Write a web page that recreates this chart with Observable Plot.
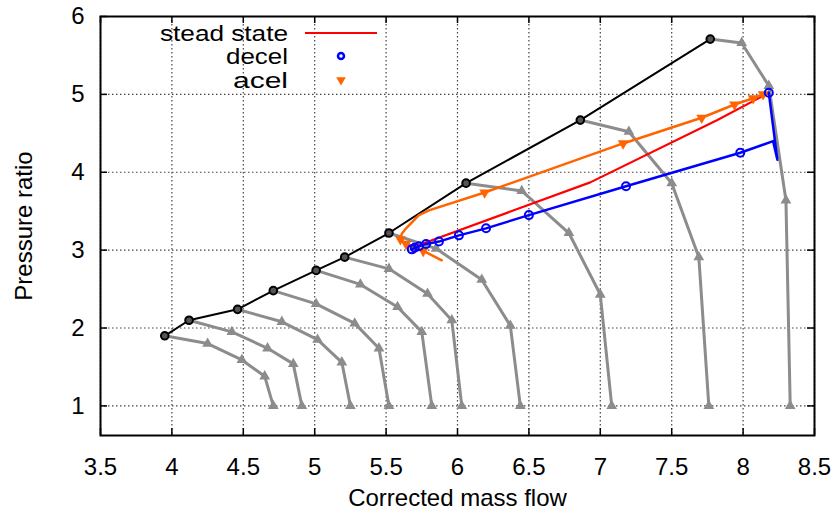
<!DOCTYPE html>
<html><head><meta charset="utf-8">
<script src="https://cdn.jsdelivr.net/npm/d3@7"></script>
<script src="https://cdn.jsdelivr.net/npm/@observablehq/plot@0.6"></script>
<style>
body{margin:0;background:#fff;}
#chart{position:relative;width:837px;height:516px;}
</style></head><body><div id="chart"></div>
<script>
// ---- data ----
const xTicks = [3.5, 4, 4.5, 5, 5.5, 6, 6.5, 7, 7.5, 8, 8.5];
const yTicks = [1, 2, 3, 4, 5, 6];

// surge line (black circles)
const surgeX = [3.95, 4.12, 4.46, 4.71, 5.01, 5.21, 5.52, 6.06, 6.86, 7.77];
const surgeY = [1.90, 2.10, 2.24, 2.48, 2.74, 2.91, 3.22, 3.86, 4.67, 5.71];

// constant-speed lines (grey triangles); each starts at the matching surge point
const speedX = [
  [4.25, 4.49, 4.65, 4.71],
  [4.42, 4.67, 4.85, 4.91],
  [4.77, 5.02, 5.19, 5.25],
  [5.01, 5.28, 5.45, 5.52],
  [5.32, 5.58, 5.75, 5.82],
  [5.52, 5.79, 5.96, 6.03],
  [5.85, 6.17, 6.37, 6.44],
  [6.45, 6.78, 7.00, 7.08],
  [7.20, 7.50, 7.69, 7.76],
  [7.99, 8.18, 8.30, 8.33]
];
const speedY = [
  [1.80, 1.59, 1.38, 1.00],
  [1.95, 1.74, 1.54, 1.00],
  [2.08, 1.85, 1.56, 1.00],
  [2.31, 2.06, 1.74, 1.00],
  [2.56, 2.27, 1.95, 1.00],
  [2.76, 2.44, 2.10, 1.00],
  [3.02, 2.62, 2.03, 1.00],
  [3.76, 3.22, 2.43, 1.00],
  [4.52, 3.86, 2.91, 1.00],
  [5.66, 5.11, 3.64, 1.00]
];

// steady state (red)
const steadyX = [5.72, 6.93, 7.82, 8.18];
const steadyY = [3.06, 3.87, 4.67, 5.02];

// deceleration (blue circles)
const decelX = [8.18, 8.24, 8.21, 7.98, 7.18, 6.50, 6.20, 6.01, 5.87, 5.78, 5.73, 5.70, 5.68];
const decelY = [5.02, 4.16, 4.40, 4.25, 3.82, 3.45, 3.28, 3.19, 3.11, 3.08, 3.05, 3.03, 3.01];

// acceleration (orange down-triangles)
const acelX = [5.89, 5.76, 5.70, 5.64, 5.60, 5.61, 5.64, 5.73, 5.80, 6.19, 7.16, 7.71, 7.94, 8.07, 8.14, 8.18];
const acelY = [2.87, 2.99, 3.03, 3.08, 3.14, 3.21, 3.28, 3.45, 3.51, 3.74, 4.37, 4.70, 4.87, 4.95, 5.00, 5.02];

const legendLabels = ["stead state", "decel", "acel"];

// ---- build tables ----
const surge = surgeX.map((x, i) => ({x, y: surgeY[i]}));
const grey = [];
speedX.forEach((xs, k) => {
  grey.push({line: k, idx: 0, x: surgeX[k], y: surgeY[k]});
  xs.forEach((x, j) => grey.push({line: k, idx: j + 1, x, y: speedY[k][j]}));
});
const steady = steadyX.map((x, i) => ({x, y: steadyY[i]}));
const decel = decelX.map((x, i) => ({x, y: decelY[i], i}));
const acel = acelX.map((x, i) => ({x, y: acelY[i], i}));

const sqrt3 = Math.sqrt(3);
const triDown = {
  draw(context, size) {
    const y = -Math.sqrt(size / (sqrt3 * 3));
    context.moveTo(0, -y * 2);
    context.lineTo(-sqrt3 * y, y);
    context.lineTo(sqrt3 * y, y);
    context.closePath();
  }
};

const GREY = "#8c8c8c", ORANGE = "#ff6400";
const W = 837, H = 516, mL = 100, mR = 23, mT = 16, mB = 81;
const fw = W - mL - mR, fh = H - mT - mB, tl = 7;
const FONT = "'Liberation Sans', Arial, Helvetica, sans-serif";

const chart = Plot.plot({
  width: W, height: H,
  marginLeft: mL, marginRight: mR, marginTop: mT, marginBottom: mB,
  style: {fontFamily: FONT, fontSize: "24px", color: "#000", background: "#fff"},
  x: {domain: [3.5, 8.5]},
  y: {domain: [0.62, 6]},
  marks: [
    Plot.gridX(xTicks, {stroke: "#444", strokeOpacity: 1, strokeWidth: 1.2, strokeDasharray: "1.5,2.5"}),
    Plot.gridY(yTicks, {stroke: "#444", strokeOpacity: 1, strokeWidth: 1.2, strokeDasharray: "1.5,2.5"}),
    Plot.tickX(xTicks, {x: d => d, insetTop: fh - tl, stroke: "#000", strokeWidth: 1.5}),
    Plot.tickX(xTicks, {x: d => d, insetBottom: fh - tl, stroke: "#000", strokeWidth: 1.5}),
    Plot.tickY(yTicks, {y: d => d, insetRight: fw - tl, stroke: "#000", strokeWidth: 1.5}),
    Plot.tickY(yTicks, {y: d => d, insetLeft: fw - tl, stroke: "#000", strokeWidth: 1.5}),
    Plot.line(grey, {x: "x", y: "y", z: "line", stroke: GREY, strokeWidth: 3}),
    Plot.dot(grey.filter(d => d.idx > 0), {x: "x", y: "y", symbol: "triangle", r: 4, fill: GREY}),
    Plot.line(surge, {x: "x", y: "y", stroke: "#000", strokeWidth: 2}),
    Plot.dot(surge, {x: "x", y: "y", r: 3.8, stroke: "#000", strokeWidth: 2, fill: "#555"}),
    Plot.line(steady, {x: "x", y: "y", stroke: "#ff0000", strokeWidth: 2.2}),
    Plot.line(acel, {x: "x", y: "y", stroke: ORANGE, strokeWidth: 2.5}),
    Plot.dot(acel.filter(d => (d.i >= 1 && d.i <= 4) || (d.i >= 9 && d.i <= 14)), {x: "x", y: "y", symbol: triDown, r: 4, fill: ORANGE}),
    Plot.line(decel, {x: "x", y: "y", stroke: "#0000ff", strokeWidth: 2.5}),
    Plot.dot(decel.filter(d => d.i === 0 || d.i >= 3), {x: "x", y: "y", r: 4, stroke: "#0000ff", strokeWidth: 2, fill: "none"}),
    Plot.frame({stroke: "#000", strokeWidth: 2}),
    Plot.axisX(xTicks, {tickSize: 0, tickPadding: 22, tickFormat: d => String(d), label: "Corrected mass flow", labelAnchor: "center", labelArrow: "none", labelOffset: 70}),
    Plot.axisY(yTicks, {tickSize: 0, tickPadding: 16, tickFormat: d => String(d), label: "Pressure ratio", labelAnchor: "center", labelArrow: "none", labelOffset: 86})
  ]
});
document.getElementById("chart").appendChild(chart);

// legend (inside plot, top-left)
const svg = d3.select(chart);
const lg = svg.append("g").attr("font-family", FONT).attr("font-size", 22);
const rows = [33, 56, 80];
const widths = [128, 62, 55];
legendLabels.forEach((t, i) => {
  lg.append("text").attr("x", 288).attr("y", rows[i]).attr("dy", "0.35em").attr("text-anchor", "end")
    .attr("textLength", widths[i]).attr("lengthAdjust", "spacingAndGlyphs").text(t);
});
lg.append("line").attr("x1", 305).attr("x2", 377).attr("y1", rows[0]).attr("y2", rows[0]).attr("stroke", "#ff0000").attr("stroke-width", 2);
lg.append("circle").attr("cx", 341).attr("cy", rows[1]).attr("r", 3).attr("fill", "none").attr("stroke", "#0000ff").attr("stroke-width", 2.5);
lg.append("path").attr("transform", `translate(341,${rows[2]})`).attr("d", d3.symbol(triDown, 40)()).attr("fill", ORANGE);
</script></body></html>
